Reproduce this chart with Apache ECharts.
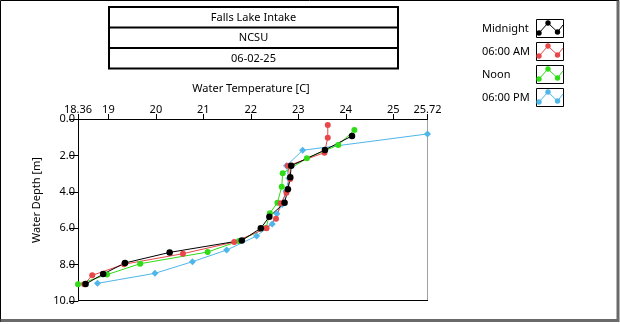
<!DOCTYPE html>
<html>
<head>
<meta charset="utf-8">
<script src="https://cdn.jsdelivr.net/npm/echarts@6/dist/echarts.min.js"></script>
<style>
  html, body { margin: 0; padding: 0; background: #fff; }
  #chart { width: 620px; height: 324px; }
</style>
</head>
<body>
<div id="chart"></div>
<script>
// Profile header
const titleLines = ['Falls Lake Intake', 'NCSU', '06-02-25'];

// Series names and colours (legend order)
const seriesNames = ['Midnight', '06:00 AM', 'Noon', '06:00 PM'];
const seriesColors = ['#000000', '#e8474a', '#2fdc17', '#4fb6ea'];

// Temperature [C] / depth [m] profiles
const midnightTemp  = [24.13, 23.56, 22.85, 22.83, 22.78, 22.71, 22.39, 22.21, 21.81, 20.29, 19.35, 18.89, 18.52];
const midnightDepth = [0.93, 1.70, 2.57, 3.20, 3.86, 4.60, 5.37, 6.00, 6.67, 7.33, 7.91, 8.52, 9.07];

const morningTemp  = [23.62, 23.62, 23.55, 22.78, 22.83, 22.75, 22.63, 22.53, 22.33, 21.65, 20.57, 19.33, 18.66, 18.49];
const morningDepth = [0.33, 1.03, 1.85, 2.57, 3.30, 4.05, 4.63, 5.48, 6.00, 6.76, 7.40, 7.98, 8.59, 9.08];

const noonTemp  = [24.18, 23.84, 23.18, 22.67, 22.65, 22.56, 22.40, 22.32, 21.75, 21.09, 19.67, 18.97, 18.36];
const noonDepth = [0.60, 1.43, 2.16, 2.98, 3.72, 4.60, 5.18, 5.99, 6.70, 7.31, 7.95, 8.55, 9.08];

const eveningTemp  = [25.72, 23.09, 22.75, 22.80, 22.74, 22.66, 22.55, 22.45, 22.12, 21.49, 20.77, 19.98, 18.77];
const eveningDepth = [0.82, 1.72, 2.57, 3.25, 3.95, 4.70, 5.20, 5.77, 6.43, 7.20, 7.84, 8.48, 9.03];

// Axis ticks
const tempTicks = [18.36, 19, 20, 21, 22, 23, 24, 25, 25.72];
const depthMin = 0, depthMax = 10, depthStep = 2;

const FONT = 'Noto Sans';
const FS = 11;

function pairs(t, d) { return t.map((v, i) => [v, d[i]]); }

const profiles = [
  { idx: 3, temp: eveningTemp,  depth: eveningDepth,  symbol: 'diamond', size: 7 },
  { idx: 2, temp: noonTemp,     depth: noonDepth,     symbol: 'circle',  size: 6 },
  { idx: 1, temp: morningTemp,  depth: morningDepth,  symbol: 'circle',  size: 6 },
  { idx: 0, temp: midnightTemp, depth: midnightDepth, symbol: 'circle',  size: 6.5 }
];

const series = profiles.map(p => ({
  name: seriesNames[p.idx],
  type: 'line',
  data: pairs(p.temp, p.depth),
  symbol: p.symbol,
  symbolSize: p.size,
  showSymbol: true,
  clip: false,
  lineStyle: { color: seriesColors[p.idx], width: 1 },
  itemStyle: { color: seriesColors[p.idx] },
  emphasis: { disabled: true }
}));

const font = FS + 'px "' + FONT + '"';

// Header boxes, axis titles, legend and panel frame
const graphics = [];
const boxX = 109, boxY = 7, boxW = 289, rowH = 20.5;
graphics.push({ type: 'rect', shape: { x: boxX, y: boxY, width: boxW, height: rowH * 3 },
  style: { fill: '#fff', stroke: '#000', lineWidth: 2 }, silent: true });
for (let i = 1; i < 3; i++) {
  graphics.push({ type: 'line', shape: { x1: boxX, y1: boxY + rowH * i, x2: boxX + boxW, y2: boxY + rowH * i },
    style: { stroke: '#000', lineWidth: 2 }, silent: true });
}
titleLines.forEach((t, i) => {
  graphics.push({ type: 'text', x: boxX + boxW / 2, y: boxY + rowH * i + rowH / 2 + 0.5,
    style: { text: t, font: font, fill: '#000', align: 'center', verticalAlign: 'middle' }, silent: true });
});

graphics.push({ type: 'text', x: 251, y: 89,
  style: { text: 'Water Temperature [C]', font: font, fill: '#000', align: 'center', verticalAlign: 'middle' }, silent: true });
graphics.push({ type: 'text', x: 37, y: 200, rotation: Math.PI / 2,
  style: { text: 'Water Depth [m]', font: font, fill: '#000', align: 'center', verticalAlign: 'middle' }, silent: true });

seriesNames.forEach((name, i) => {
  const oy = 23 * i;
  graphics.push({ type: 'text', x: 482, y: 28.5 + oy,
    style: { text: name, font: font, fill: '#000', align: 'left', verticalAlign: 'middle' }, silent: true });
  graphics.push({ type: 'rect', shape: { x: 536.5, y: 19.5 + oy, width: 27, height: 18 },
    style: { fill: '#fff', stroke: '#000', lineWidth: 1 }, silent: true });
  const pts = [[539, 33 + oy], [548, 23 + oy], [557.5, 32 + oy], [563, 25 + oy]];
  graphics.push({ type: 'polyline', shape: { points: pts },
    style: { stroke: seriesColors[i], lineWidth: 1, fill: null }, silent: true });
  for (let k = 0; k < 3; k++) {
    graphics.push({ type: 'circle', shape: { cx: pts[k][0], cy: pts[k][1], r: 2.7 },
      style: { fill: seriesColors[i] }, silent: true });
  }
});

// plot right and bottom edges
graphics.push({ type: 'line', shape: { x1: 427.5, y1: 119, x2: 427.5, y2: 301 },
  style: { stroke: '#a0a0a0', lineWidth: 1 }, silent: true, z: -1 });
graphics.push({ type: 'line', shape: { x1: 78, y1: 300.5, x2: 428, y2: 300.5 },
  style: { stroke: '#000', lineWidth: 1 }, silent: true, z: -1 });

// panel frame
graphics.push({ type: 'polyline', shape: { points: [[0.5, 322], [0.5, 0.5], [619, 0.5]] },
  style: { stroke: '#000', lineWidth: 1, fill: null }, silent: true });
graphics.push({ type: 'polyline', shape: { points: [[0.5, 320.5], [618, 320.5], [618, 0.5]] },
  style: { stroke: '#6a6a6a', lineWidth: 3, fill: null }, silent: true });

const chart = echarts.init(document.getElementById('chart'), null, { renderer: 'canvas' });
chart.setOption({
  animation: false,
  backgroundColor: '#fff',
  grid: { left: 78, top: 119, width: 349.5, height: 182, containLabel: false },
  xAxis: {
    type: 'value',
    position: 'top',
    min: tempTicks[0],
    max: tempTicks[tempTicks.length - 1],
    axisLine: { show: true, onZero: false, lineStyle: { color: '#000', width: 1 } },
    axisTick: { show: true, customValues: tempTicks, length: 5, lineStyle: { color: '#000' } },
    axisLabel: { show: true, customValues: tempTicks, margin: 4, color: '#000', fontFamily: FONT, fontSize: FS,
      formatter: v => String(v) },
    splitLine: { show: false }
  },
  yAxis: {
    type: 'value',
    inverse: true,
    min: depthMin,
    max: depthMax,
    interval: depthStep,
    axisLine: { show: true, onZero: false, lineStyle: { color: '#000', width: 1 } },
    axisTick: { show: true, length: 9, lineStyle: { color: '#000' } },
    axisLabel: { margin: 3, color: '#000', fontFamily: FONT, fontSize: FS, formatter: v => v.toFixed(1) },
    splitLine: { show: false }
  },
  series: series,
  graphic: { elements: graphics }
});
</script>
</body>
</html>
